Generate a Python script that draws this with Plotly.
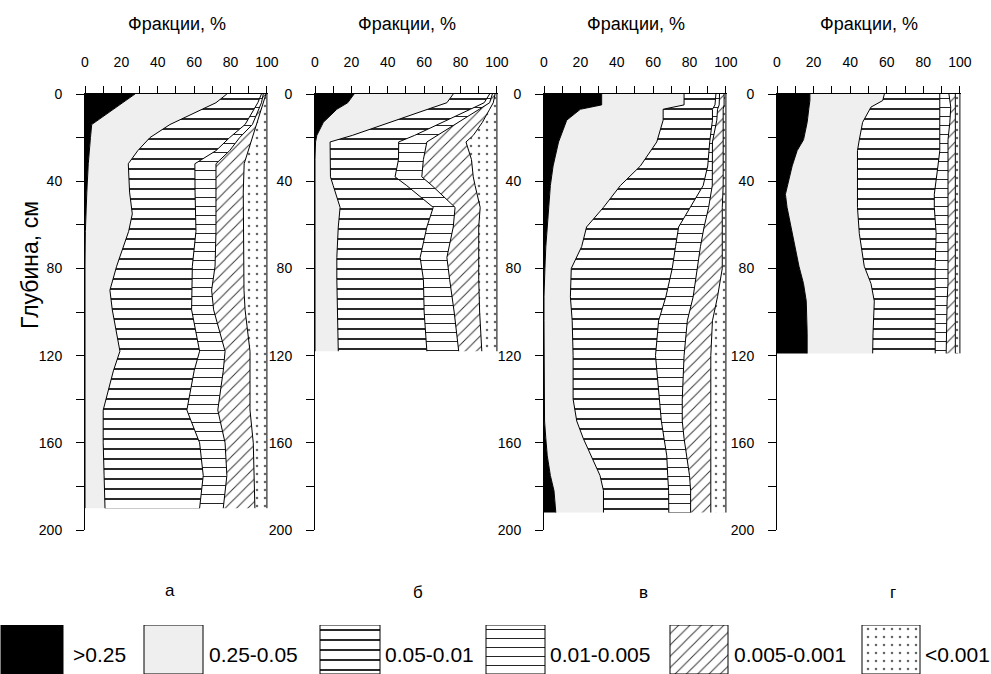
import plotly.graph_objects as go

W, H = 991, 674
FONT = "Liberation Sans, Arial, sans-serif"

# ---------------- data ----------------
fractions = [">0.25", "0.25-0.05", "0.05-0.01", "0.01-0.005", "0.005-0.001", "<0.001"]
panel_letters = ["а", "б", "в", "г"]
x_ticks = list(range(0, 101, 10))
y_ticks = list(range(0, 201, 20))

# panel а
depth_a = [0, 4, 14, 20, 26, 32, 45, 55, 63, 79, 90, 99, 118, 127, 145, 160, 175, 190]
a_f1 = [27.5, 20.5, 3.7, 3, 2.2, 1.8, 1, 0.6, 0.2, 0, 0, 0, 0, 0, 0, 0, 0, 0]
a_f2 = [50.5, 51.5, 43, 32.7, 26.8, 22, 23.5, 25.4, 23.8, 17.4, 13.7, 15, 19.2, 15.6, 10, 10, 10.5, 11]
a_f3 = [19, 23, 41.3, 43.8, 43, 36.6, 36, 35, 37, 41.6, 44.9, 43.6, 43.8, 44.4, 46, 53, 54.5, 52]
a_f4 = [1, 2, 4, 5.5, 7.5, 11.6, 11.5, 11, 11, 12.5, 11, 12.1, 14, 16, 17, 14, 13, 13]
a_f5 = [1.5, 1, 2, 7, 10, 15.5, 15, 15, 15, 15.5, 17.8, 17.3, 13.7, 14.7, 17.7, 15.5, 15, 17.4]
a_f6 = [0.5, 2, 6, 8, 10.5, 12.5, 13, 13, 13, 13, 12.6, 12, 9.3, 9.3, 9.3, 7.5, 7, 6.6]

# panel б
depth_b = [0, 4, 7, 13, 19, 22, 30, 38, 42, 52, 61, 75, 85, 100, 118]
b_f1 = [21.5, 18, 12, 4.6, 1, 0.3, 0, 0, 0, 0, 0, 0, 0, 0, 0]
b_f2 = [54.5, 54.5, 50, 36.7, 19.5, 8, 8.3, 8.5, 10, 13.8, 12.8, 12, 12, 12.5, 12.8]
b_f3 = [20, 20.5, 23.4, 28.7, 34.2, 37.7, 37.6, 35.5, 40.4, 51.2, 48.7, 45.8, 47.6, 47.5, 48.7]
b_f4 = [1.5, 3, 4.9, 8.8, 12.6, 15.5, 13.7, 14.7, 13.9, 12, 14.5, 14.7, 14.4, 16.5, 17.5]
b_f5 = [1.5, 2, 5.7, 13.2, 19.7, 21.5, 26.4, 28.3, 23.7, 13.8, 14, 17.5, 16, 14, 12.7]
b_f6 = [1, 2, 4, 8, 13, 17, 14, 13, 12, 9.2, 10, 10, 10, 9.5, 8.3]

# panel в
depth_c = [0, 5, 7, 12, 22, 33, 42, 52, 61, 70, 80, 93, 104, 120, 140, 150, 158, 166, 175, 182, 192]
c_f1 = [31.7, 31.7, 20, 12.5, 8, 5, 3.5, 2.5, 1.5, 1, 0.5, 0, 0, 0, 0, 0.3, 1, 1.8, 3.5, 5.5, 6.5]
c_f2 = [45.3, 45.3, 45.5, 53, 54, 48, 38.5, 30.2, 21.9, 19.7, 14.5, 14.5, 15.5, 16, 16, 17.7, 20.6, 24.2, 27.3, 27.2, 26.2]
c_f3 = [17.5, 17, 27.1, 27.1, 29.1, 37, 45.5, 47.9, 50.6, 51.6, 55.5, 52.5, 47.5, 45.3, 47.5, 46.5, 44.4, 41.5, 37.2, 35.8, 35.9]
c_f4 = [2, 2.3, 2.8, 2.4, 1.5, 2.6, 5, 9.9, 14, 13.7, 13.8, 15, 15.8, 15.7, 12.5, 11.5, 11, 11, 12, 12.1, 12]
c_f5 = [2.5, 2.7, 3.1, 3.5, 5.9, 5.9, 6, 7.5, 10, 12, 13.7, 13.4, 13.8, 14.7, 15.7, 15.7, 14.7, 13.2, 11.7, 11.1, 11.1]
c_f6 = [1, 1, 1.5, 1.5, 1.5, 1.5, 1.5, 2, 2, 2, 2, 4.6, 7.4, 8.3, 8.3, 8.3, 8.3, 8.3, 8.3, 8.3, 8.3]

# panel г
depth_d = [0, 3, 6, 13, 21, 26, 33, 42, 46, 52, 64, 79, 87, 95, 110, 119]
d_f1 = [18, 18, 17.5, 16.5, 14.5, 11, 8.3, 5.5, 4.6, 5.5, 8.3, 12, 14.5, 16, 16.5, 16.5]
d_f2 = [40.7, 39.8, 33.9, 30.3, 30.5, 33, 35.7, 38.5, 39.4, 38.5, 36.7, 35.7, 36.9, 37.2, 36, 35.8]
d_f3 = [30.3, 31.2, 37.6, 42.2, 44, 45, 44, 42.5, 42, 42, 42, 38.8, 35.1, 33.3, 34, 34.2]
d_f4 = [5, 5.5, 6, 5.5, 4.5, 4.5, 5.5, 7, 7.5, 7.5, 6.5, 7, 7, 6.5, 6, 6]
d_f5 = [3.5, 3, 2.5, 3, 4, 4, 4, 4, 4, 4, 4, 4, 4, 4.5, 5, 5]
d_f6 = [2.5, 2.5, 2.5, 2.5, 2.5, 2.5, 2.5, 2.5, 2.5, 2.5, 2.5, 2.5, 2.5, 2.5, 2.5, 2.5]

panels = [
    (depth_a, [a_f1, a_f2, a_f3, a_f4, a_f5, a_f6]),
    (depth_b, [b_f1, b_f2, b_f3, b_f4, b_f5, b_f6]),
    (depth_c, [c_f1, c_f2, c_f3, c_f4, c_f5, c_f6]),
    (depth_d, [d_f1, d_f2, d_f3, d_f4, d_f5, d_f6]),
]

# ---------------- styles ----------------
def pat(shape, size, solidity, fg="black"):
    return dict(shape=shape, size=size, solidity=solidity, fgcolor=fg,
                bgcolor="white", fillmode="replace")

styles = [
    dict(fillcolor="black"),
    dict(fillcolor="#efefef"),
    dict(fillcolor="white", fillpattern=pat("-", 10, 0.18, "#111111")),
    dict(fillcolor="white", fillpattern=pat("-", 9, 0.11, "#222222")),
    dict(fillcolor="white", fillpattern=pat("/", 8, 0.12, "#333333")),
    dict(fillcolor="white", fillpattern=pat(".", 8, 0.08, "#666666")),
]

# pixel layout of the panels
panel_px = [(85, 268), (315, 498), (544, 727), (777, 961)]
top_px, bottom_px = 94, 530
letter_px = [(170, 590), (418, 592), (643, 592), (893, 592)]


def px(x):
    return x / W


def py(y):
    return 1 - y / H


fig = go.Figure()

for i, (depths, frs) in enumerate(panels):
    k = "" if i == 0 else str(i + 1)
    for j, vals in enumerate(frs):
        fig.add_trace(go.Scatter(
            x=vals, y=depths, mode="lines",
            stackgroup=f"g{i}", orientation="h",
            line=dict(color="black", width=1),
            xaxis="x" + k, yaxis="y" + k,
            name=fractions[j], showlegend=False, hoverinfo="skip",
            **styles[j]))
    x0, x1 = panel_px[i]
    fig.layout["xaxis" + k] = dict(
        domain=[px(x0), px(x1)], range=[0, 100.6], side="top", anchor="y" + k,
        tickvals=x_ticks, ticktext=[str(v) if v % 20 == 0 else "" for v in x_ticks],
        ticks="outside", ticklen=7, tickcolor="black", showline=True,
        linecolor="black", linewidth=1, showgrid=False, zeroline=False,
        ticklabelstandoff=13, tickfont=dict(family=FONT, size=14, color="black"))
    fig.layout["yaxis" + k] = dict(
        domain=[py(bottom_px), py(top_px)], range=[200, 0], anchor="x" + k,
        tickvals=y_ticks, ticktext=[str(v) if v % 40 == 0 else "" for v in y_ticks],
        ticks="outside", ticklen=8, tickcolor="black", showline=True,
        linecolor="black", linewidth=1, showgrid=False, zeroline=False,
        ticklabelstandoff=11, tickfont=dict(family=FONT, size=14, color="black"))

annotations = []
for i in range(4):
    x0, x1 = panel_px[i]
    annotations.append(dict(text="Фракции, %", x=px((x0 + x1) / 2), y=py(24),
                            xanchor="center", yanchor="middle",
                            xref="paper", yref="paper", showarrow=False,
                            font=dict(family=FONT, size=18, color="black")))
    lx, ly = letter_px[i]
    annotations.append(dict(text=panel_letters[i], x=px(lx), y=py(ly),
                            xanchor="center", yanchor="middle",
                            xref="paper", yref="paper", showarrow=False,
                            font=dict(family=FONT, size=17, color="black")))
annotations.append(dict(text="Глубина, см", x=px(30), y=py(265), textangle=-90,
                        xanchor="center", yanchor="middle",
                        xref="paper", yref="paper", showarrow=False,
                        font=dict(family=FONT, size=23, color="black")))

# ---------------- legend (big pattern swatches) ----------------
legend_boxes = [(1, 63), (144, 203), (320, 380), (486, 545), (670, 728), (862, 920)]
legend_text_x = [71, 207, 383, 548, 732, 923]
legend_labels = [">0.25", "0.25-0.05", "0.05-0.01", "0.01-0.005", "0.005-0.001", "&lt;0.001"]
for j, (b0, b1) in enumerate(legend_boxes):
    fig.add_trace(go.Scatter(
        x=[b0, b1, b1, b0, b0], y=[0, 0, 1, 1, 0], fill="toself", mode="lines",
        line=dict(color="black", width=1), xaxis="x5", yaxis="y5",
        showlegend=False, hoverinfo="skip", **styles[j]))
    annotations.append(dict(text=legend_labels[j], x=px(legend_text_x[j]), y=py(654),
                            xanchor="left", yanchor="middle",
                            xref="paper", yref="paper", showarrow=False,
                            font=dict(family=FONT, size=21, color="black")))

fig.layout["xaxis5"] = dict(domain=[0, 1], range=[0, W], visible=False, anchor="y5")
fig.layout["yaxis5"] = dict(domain=[0, py(625)], range=[0, 1], visible=False, anchor="x5")

fig.update_layout(
    width=W, height=H, margin=dict(l=0, r=0, t=0, b=0, pad=0, autoexpand=False),
    paper_bgcolor="white", plot_bgcolor="white",
    annotations=annotations, showlegend=False,
    font=dict(family=FONT, color="black"),
)

fig.write_html("out.html")
